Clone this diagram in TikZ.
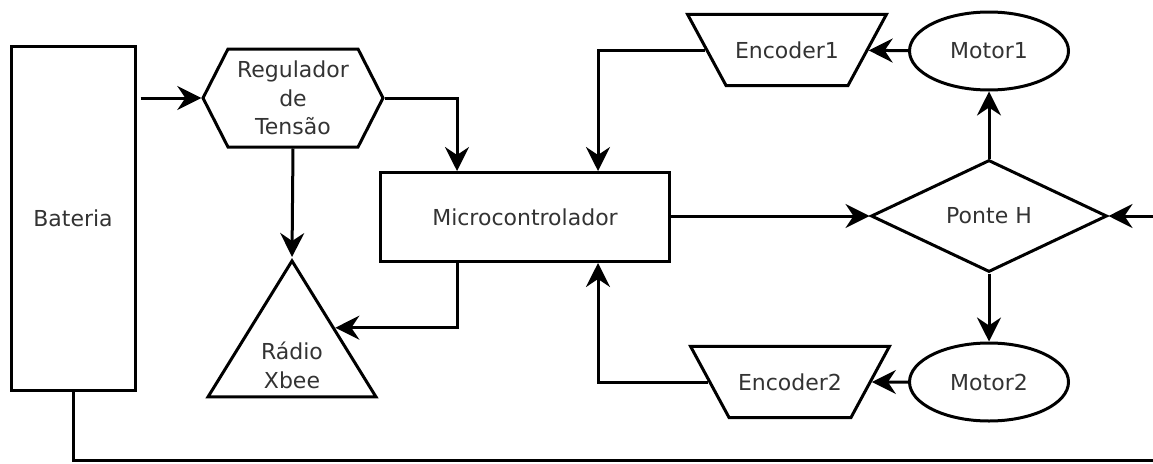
\documentclass[tikz,border=0pt]{standalone}
\usepackage{fontspec}
\setmainfont{DejaVu Sans}
\usetikzlibrary{shapes.geometric,shapes.symbols,arrows.meta,positioning}

\tikzset{
	bloco/.style={draw,line width=3pt,text=black!80,font=\fontsize{22}{28.5}\selectfont,align=center,inner sep=0pt},
	caixa/.style={bloco,rectangle},
	hexa/.style={bloco,signal,signal to=west and east,signal pointer angle=126,minimum width=180pt,minimum height=98pt},
	tri/.style={bloco,isosceles triangle,shape border rotate=90,isosceles triangle stretches,minimum width=168pt,minimum height=136pt},
	encoder/.style={bloco,trapezium,shape border rotate=180,trapezium angle=61.6,inner xsep=9pt,inner ysep=27pt},
	motor/.style={bloco,ellipse,minimum width=159pt,minimum height=78pt},
	ponte/.style={bloco,diamond,minimum width=236pt,minimum height=112pt},
	seta/.style={-{Stealth[length=24pt,width=24pt,inset=8pt]},line width=3pt},
	linha/.style={line width=3pt}
}

\begin{document}
\begin{tikzpicture}[x=1pt,y=-1pt]
	\useasboundingbox (0,0) rectangle (1153,463);
	% blocos
	\node[caixa,minimum width=124pt,minimum height=344pt] (bat) at (73,218){Bateria};
	\node[hexa] (reg) at (293,98){Regulador\\de\\Tensão};
	\node[tri,anchor=apex] (radio) at (292,257){\\[4pt]Rádio\\Xbee};
	\node[caixa,minimum width=289pt,minimum height=89pt] (mcu) at (525,217){Microcontrolador};
	\node[encoder] (enc1) at (787,50){Encoder1};
	\node[motor] (mot1) at (989,51){Motor1};
	\node[ponte] (ph) at (989,216){Ponte H};
	\node[motor] (mot2) at (989,382){Motor2};
	\node[encoder] (enc2) at (790,382){Encoder2};
	% pontas livres
	\coordinate (fimB) at (1160,460);
	\coordinate (fimR) at (1160,216);
	% ligacoes
	\draw[seta] ([xshift=4pt]bat.east |- reg.west) -- (reg.west);
	\draw[seta] (reg.east) -| ([xshift=-68pt]mcu.north);
	\draw[seta] (reg.south) -- (radio.apex);
	\draw[seta] ([xshift=-68pt]mcu.south) |- (radio.right side);
	\draw[seta] (mot1) -- (enc1);
	\draw[seta] (enc1) -| ([xshift=73pt]mcu.north);
	\draw[seta] (ph.north) -- (mot1.south);
	\draw[seta] (ph.south) -- (mot2.north);
	\draw[seta] (mot2) -- (enc2);
	\draw[seta] (enc2) -| ([xshift=73pt]mcu.south);
	\draw[seta] (mcu.east |- ph.west) -- (ph.west);
	\draw[linha] (bat.south) |- (fimB);
	\draw[seta] (fimR) -- (ph.east);
\end{tikzpicture}
\end{document}
